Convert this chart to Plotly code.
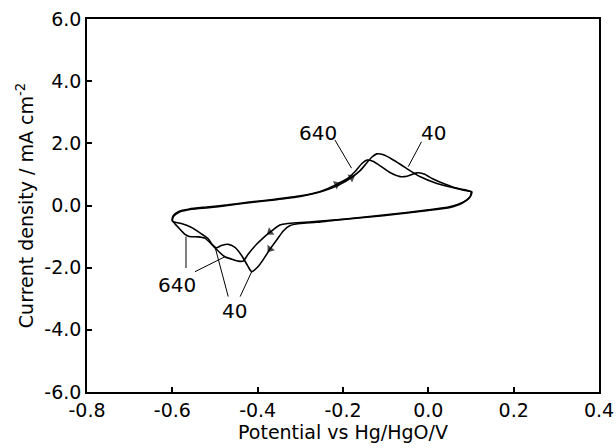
import plotly.graph_objects as go

# ---------------- data ----------------
# 640-cycle CV: anodic sweep from -0.6 V to 0.1 V, then cathodic sweep back
E_640 = [-0.600, -0.598, -0.585, -0.560, -0.520, -0.470, -0.420, -0.360, -0.300,
         -0.250, -0.215, -0.190, -0.170, -0.155, -0.144, -0.130, -0.110, -0.090,
         -0.066, -0.050, -0.027, -0.010, 0.010, 0.040, 0.074, 0.092, 0.100,
         0.100, 0.097, 0.080, 0.050, 0.000, -0.100, -0.200, -0.260, -0.300,
         -0.330, -0.348, -0.371, -0.390, -0.402, -0.422, -0.434, -0.445, -0.460,
         -0.477, -0.495, -0.509, -0.524, -0.540, -0.560, -0.570, -0.585, -0.595,
         -0.600]
I_640 = [-0.48, -0.33, -0.19, -0.11, -0.05, 0.02, 0.11, 0.20, 0.31,
         0.47, 0.68, 0.86, 1.12, 1.36, 1.46, 1.42, 1.25, 1.06,
         0.93, 0.94, 1.05, 1.01, 0.86, 0.68, 0.52, 0.47, 0.44,
         0.38, 0.26, 0.10, -0.04, -0.14, -0.30, -0.44, -0.51, -0.55,
         -0.58, -0.63, -0.86, -1.08, -1.24, -1.56, -1.79, -1.79, -1.73,
         -1.65, -1.43, -1.23, -1.05, -1.01, -1.00, -0.93, -0.72, -0.57,
         -0.48]

# 40-cycle CV
E_40 = [-0.600, -0.597, -0.583, -0.555, -0.515, -0.470, -0.420, -0.360, -0.300,
        -0.250, -0.210, -0.180, -0.160, -0.145, -0.132, -0.121, -0.105, -0.085,
        -0.065, -0.045, -0.020, 0.020, 0.066, 0.090, 0.102,
        0.101, 0.098, 0.080, 0.051, 0.000, -0.106, -0.223, -0.262, -0.301,
        -0.325, -0.340, -0.355, -0.371, -0.385, -0.400, -0.414, -0.423, -0.438,
        -0.454, -0.469, -0.485, -0.497, -0.507, -0.516, -0.532, -0.556, -0.579,
        -0.596, -0.600]
I_40 = [-0.50, -0.35, -0.21, -0.12, -0.07, 0.00, 0.09, 0.18, 0.29,
        0.45, 0.66, 0.90, 1.12, 1.36, 1.56, 1.66, 1.63, 1.49,
        1.32, 1.14, 0.93, 0.71, 0.55, 0.49, 0.44,
        0.36, 0.28, 0.08, -0.06, -0.16, -0.33, -0.48, -0.54, -0.58,
        -0.65, -0.82, -1.10, -1.40, -1.70, -1.98, -2.13, -1.95, -1.60,
        -1.34, -1.25, -1.29, -1.36, -1.25, -1.07, -0.91, -0.70, -0.58,
        -0.53, -0.50]

# sweep-direction arrows: (series, index of arrow tip)
arrow_marks = [("640", 10), ("40", 11), ("640", 38), ("40", 37)]

# cycle-number labels: text, label position, leader lines (from, to)
labels = [
    ("640", -0.259, 2.33),
    ("40", 0.013, 2.33),
    ("640", -0.589, -2.56),
    ("40", -0.454, -3.41),
]
leaders = [
    (-0.219, 2.11, -0.180, 1.20),
    (-0.016, 2.05, -0.047, 1.25),
    (-0.568, -2.01, -0.568, -1.00),
    (-0.547, -2.13, -0.477, -1.65),
    (-0.469, -2.93, -0.500, -1.33),
    (-0.441, -2.93, -0.414, -2.13),
]

x_tickvals = [-0.8, -0.6, -0.4, -0.2, 0.0, 0.2, 0.4]
x_ticktext = ["-0.8", "-0.6", "-0.4", "-0.2", "0.0", "0.2", "0.4"]
y_tickvals = [-6, -4, -2, 0, 2, 4, 6]
y_ticktext = ["-6.0", "-4.0", "-2.0", "0.0", "2.0", "4.0", "6.0"]

# ---------------- figure ----------------
FONT = "DejaVu Sans"
series = {"640": (E_640, I_640), "40": (E_40, I_40)}

fig = go.Figure()
for name, (ex, iy) in series.items():
    fig.add_trace(go.Scatter(x=ex, y=iy, mode="lines", name=name,
                             line=dict(color="black", width=1.6, shape="spline", smoothing=0.6),
                             showlegend=False, hoverinfo="skip"))

# arrowheads: triangle markers oriented along the sweep direction
for name, idx in arrow_marks:
    ex, iy = series[name]
    fig.add_trace(go.Scatter(x=[ex[idx - 1], ex[idx]], y=[iy[idx - 1], iy[idx]],
                             mode="markers", showlegend=False, hoverinfo="skip",
                             marker=dict(symbol="triangle-up", angleref="previous",
                                         size=[0, 8], color="black", line=dict(width=0))))

annotations = []
for txt, lx, ly in labels:
    annotations.append(dict(x=lx, y=ly, xref="x", yref="y", text=txt, showarrow=False,
                            font=dict(family=FONT, size=20, color="black")))

shapes = [dict(type="line", x0=a, y0=b, x1=c, y1=d, xref="x", yref="y",
               line=dict(color="black", width=1)) for a, b, c, d in leaders]

axis_common = dict(showline=True, linecolor="black", linewidth=1.5, mirror=True,
                   ticks="inside", ticklen=5, tickwidth=1.5, tickcolor="black",
                   showgrid=False, zeroline=False, automargin=False,
                   tickfont=dict(family=FONT, size=19, color="black"))

fig.update_layout(
    width=616, height=448,
    margin=dict(l=87, r=17, t=19, b=56),
    paper_bgcolor="white", plot_bgcolor="white",
    font=dict(family=FONT, color="black"),
    xaxis=dict(range=[-0.8, 0.4], tickvals=x_tickvals, ticktext=x_ticktext,
               title=dict(text="Potential vs Hg/HgO/V", standoff=6,
                          font=dict(family=FONT, size=19, color="black")),
               **axis_common),
    yaxis=dict(range=[-6, 6], tickvals=y_tickvals, ticktext=y_ticktext,
               title=dict(text="Current density / mA cm<sup>-2</sup>", standoff=6,
                          font=dict(family=FONT, size=19, color="black")),
               **axis_common),
    annotations=annotations,
    shapes=shapes,
)

fig.write_html("out.html", config={"displayModeBar": False},
               post_script="document.body.style.margin='0';document.body.style.overflow='hidden';")
